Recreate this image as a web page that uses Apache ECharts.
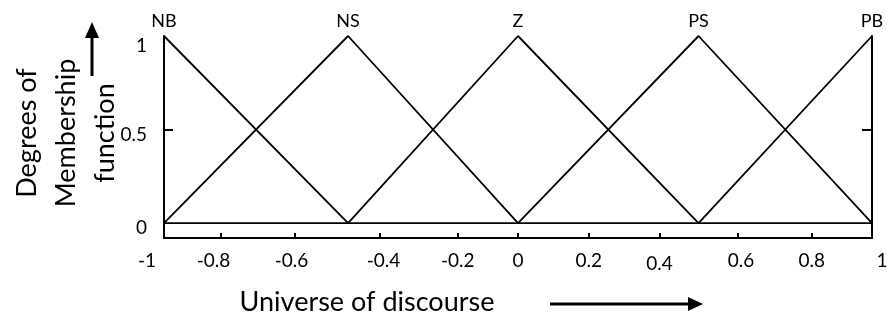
<!DOCTYPE html>
<html>
<head>
<meta charset="utf-8">
<script src="https://cdn.jsdelivr.net/npm/echarts@6/dist/echarts.min.js"></script>
<style>
  html, body { margin: 0; padding: 0; background: #fff; }
  #chart { width: 887px; height: 322px; }
</style>
</head>
<body>
<div id="chart"></div>
<script>
// membership functions (x = universe of discourse, y = degree)
var nbPoints = [[-1, 1], [-0.48, 0]];
var nsPoints = [[-1, 0], [-0.48, 1], [0, 0]];
var zPoints = [[-0.48, 0], [0, 1], [0.51, 0]];
var psPoints = [[0, 0], [0.51, 1], [1, 0]];
var pbPoints = [[0.51, 0], [1, 1]];
var basePoints = [[-1, 0], [1, 0]];
var setNames = ['NB', 'NS', 'Z', 'PS', 'PB'];

// hand drawn axis: ticks are not quite evenly spaced in the original
var xTickValues = [-0.84, -0.63, -0.39, -0.17, 0, 0.2, 0.4, 0.62, 0.83];
var xLabelValues = [-1, -0.86, -0.64, -0.38, -0.17, 0, 0.2, 0.4, 0.63, 0.83, 1];
var xLabelTexts = ['-1', '-0.8', '-0.6', '-0.4', '-0.2', '0', '0.2', '0.4', '0.6', '0.8', '1'];
var yLabelValues = [0, 0.5, 1];
var yTickValues = [0.5];

var FONT = 'Lato';
var chart = echarts.init(document.getElementById('chart'), null, { renderer: 'canvas' });

function mfSeries(name, points) {
  var data = points.map(function (p) {
    if (p[1] === 1) {
      return {
        value: p,
        label: {
          show: true, position: 'top', distance: 6, formatter: name,
          color: '#000', fontFamily: FONT, fontSize: 18
        }
      };
    }
    return { value: p };
  });
  return {
    name: name,
    type: 'line',
    data: data,
    symbol: 'circle',
    symbolSize: 0,
    showSymbol: true,
    clip: false,
    silent: true,
    itemStyle: { color: '#000' },
    lineStyle: { color: '#000', width: 1.8 }
  };
}

function xLabelText(v) {
  var idx = 0, best = Infinity;
  for (var i = 0; i < xLabelValues.length; i++) {
    var d = Math.abs(xLabelValues[i] - v);
    if (d < best) { best = d; idx = i; }
  }
  var t = xLabelTexts[idx];
  if (idx === 0) return '{lo|' + t + '}';
  if (idx === xLabelValues.length - 1) return '{hi|' + t + '}';
  if (t === '0.4') return '{dn|' + t + '}';
  return '{n|' + t + '}';
}

var tickText = { color: '#000', fontFamily: FONT, fontSize: 19 };

var option = {
  animation: false,
  backgroundColor: '#fff',
  grid: { left: 164, right: 15, top: 36, bottom: 84, outerBoundsMode: 'none' },
  xAxis: {
    type: 'value',
    min: -1,
    max: 1,
    position: 'bottom',
    splitLine: { show: false },
    axisLine: { show: true, onZero: false, lineStyle: { color: '#000', width: 2 } },
    axisTick: { show: true, inside: true, length: 5, customValues: xTickValues, lineStyle: { color: '#000', width: 2 } },
    axisLabel: {
      customValues: xLabelValues,
      margin: 13,
      formatter: xLabelText,
      color: '#000', fontFamily: FONT, fontSize: 19,
      rich: {
        n: tickText,
        lo: Object.assign({ padding: [0, 34, 0, 0] }, tickText),
        hi: Object.assign({ padding: [0, 0, 0, 20] }, tickText),
        dn: Object.assign({ padding: [3, 0, 0, 0] }, tickText)
      }
    }
  },
  yAxis: [
    {
      type: 'value',
      min: -0.08,
      max: 1,
      position: 'left',
      splitLine: { show: false },
      axisLine: { show: true, onZero: false, lineStyle: { color: '#000', width: 2 } },
      axisTick: { show: true, inside: true, length: 9, customValues: yTickValues, lineStyle: { color: '#000', width: 2 } },
      axisLabel: {
        customValues: yLabelValues,
        margin: 17,
        formatter: function (v) { return v === 1 ? '{t|1}' : '{m|' + v + '}'; },
        color: '#000', fontFamily: FONT, fontSize: 19,
        rich: {
          m: Object.assign({ padding: [10, 0, 0, 0] }, tickText),
          t: Object.assign({ padding: [20, 0, 0, 0] }, tickText)
        }
      }
    },
    {
      type: 'value',
      min: -0.08,
      max: 1,
      position: 'right',
      splitLine: { show: false },
      axisLine: { show: true, onZero: false, lineStyle: { color: '#000', width: 2 } },
      axisTick: { show: true, inside: true, length: 10, customValues: yTickValues, lineStyle: { color: '#000', width: 2 } },
      axisLabel: { show: false }
    }
  ],
  series: [
    {
      name: 'base',
      type: 'line',
      data: basePoints,
      symbol: 'none',
      clip: false,
      silent: true,
      lineStyle: { color: '#000', width: 1.8 }
    },
    mfSeries(setNames[0], nbPoints),
    mfSeries(setNames[1], nsPoints),
    mfSeries(setNames[2], zPoints),
    mfSeries(setNames[3], psPoints),
    mfSeries(setNames[4], pbPoints)
  ],
  graphic: [
    {
      type: 'text',
      x: 66, y: 133,
      rotation: Math.PI / 2,
      style: {
        text: 'Degrees of\nMembership\nfunction',
        fill: '#000', fontFamily: FONT, fontSize: 27, lineHeight: 39,
        align: 'center', verticalAlign: 'middle'
      }
    },
    { type: 'line', shape: { x1: 92, y1: 76, x2: 92, y2: 36 }, style: { stroke: '#000', lineWidth: 3 } },
    { type: 'polygon', shape: { points: [[92, 22], [85, 38], [99, 38]] }, style: { fill: '#000' } },
    {
      type: 'text',
      x: 367, y: 302,
      style: {
        text: 'Universe of discourse',
        fill: '#000', fontFamily: FONT, fontSize: 27,
        align: 'center', verticalAlign: 'middle'
      }
    },
    { type: 'line', shape: { x1: 550, y1: 304, x2: 690, y2: 304 }, style: { stroke: '#000', lineWidth: 3 } },
    { type: 'polygon', shape: { points: [[703, 304], [688, 297], [688, 311]] }, style: { fill: '#000' } }
  ]
};

chart.setOption(option);
</script>
</body>
</html>
